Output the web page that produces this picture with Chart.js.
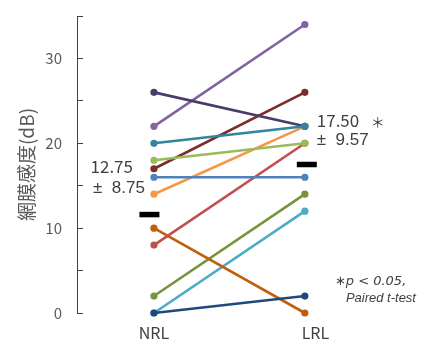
<!DOCTYPE html>
<html><head><meta charset="utf-8">
<script src="https://cdn.jsdelivr.net/npm/chart.js@4"></script>
<style>html,body{margin:0;padding:0;background:#fff}canvas{display:block}</style>
</head><body>
<canvas id="c" width="421" height="344"></canvas>
<script>
// ---- data ----
const conditions = ['NRL', 'LRL'];
const conditionLabelX = [0, 1.07];
const subjectColors = ['#31859C','#9BBB59','#1F497D','#4B3B6B','#8064A2','#7B2C2B','#4F81BD','#F79646','#C0504D','#C0600A','#77933C','#4BACC6'];
const nrlValues = [20, 18, 0, 26, 22, 17, 16, 14, 8, 10, 2, 0];
const lrlValues = [22, 20, 2, 22, 34, 26, 16, 22, 20, 0, 14, 12];
const meanMarkerX = [-0.03, 1.013];
const meanMarkerY = [11.6, 17.5];
const yTickValues = [0, 10, 20, 30];
const yTitle = '網膜感度(dB)';
const noteTexts = ['12.75', '±  8.75', '17.50', '±  9.57', '＊', '∗p < 0.05,', 'Paired t-test'];
const noteX = [-0.139, -0.404, 1.079, 1.079, 1.483, 1.199, 1.272];
const noteY = [17.3, 14.7, 22.7, 20.3, 22.5, 3.65, 1.77];
const noteAlign = ['right', 'left', 'left', 'left', 'center', 'left', 'left'];
const noteFont = ['17px "Noto Sans CJK JP"', '17px "Liberation Sans", "DejaVu Sans"', '17px "Noto Sans CJK JP"', '17px "Liberation Sans", "DejaVu Sans"',
  '14px "Noto Sans CJK JP"', 'italic 13px "DejaVu Sans"', 'italic 13px "Liberation Sans"'];

const subjectSets = nrlValues.map((v, i) => ({
  data: [{x: 0, y: v}, {x: 1, y: lrlValues[i]}],
  borderColor: subjectColors[i],
  backgroundColor: subjectColors[i],
  borderWidth: 2.6,
  pointRadius: 3.6,
  pointHoverRadius: 3.6,
  pointBorderWidth: 0,
  clip: false
}));
const meanSet = {
  data: meanMarkerX.map((x, i) => ({x, y: meanMarkerY[i]})),
  showLine: false,
  pointStyle: 'line',
  pointRadius: 10,
  pointHoverRadius: 10,
  borderColor: '#000',
  borderWidth: 5.5,
  clip: false
};

const notesPlugin = {
  id: 'notes',
  afterDatasetsDraw(chart) {
    const {ctx, scales: {x, y}} = chart;
    noteTexts.forEach((t, i) => {
      ctx.save();
      ctx.font = noteFont[i];
      ctx.fillStyle = '#404040';
      ctx.textAlign = noteAlign[i];
      ctx.textBaseline = 'middle';
      ctx.fillText(t, x.getPixelForValue(noteX[i]), y.getPixelForValue(noteY[i]));
      ctx.restore();
    });
  }
};

const zeroPad = s => { s.paddingTop = 0; s.paddingBottom = 0; s.paddingLeft = 0; s.paddingRight = 0; };

new Chart(document.getElementById('c'), {
  type: 'line',
  data: {datasets: [meanSet, ...subjectSets]},
  plugins: [notesPlugin],
  options: {
    responsive: false,
    animation: false,
    devicePixelRatio: 1,
    events: [],
    layout: {padding: {top: 16, right: 6, left: 0, bottom: 0}},
    plugins: {legend: {display: false}, tooltip: {enabled: false}},
    scales: {
      x: {
        type: 'linear',
        min: -0.51,
        max: 1.667,
        afterBuildTicks: s => { s.ticks = conditionLabelX.map(v => ({value: v})); },
        afterFit: s => { s.height = 31; zeroPad(s); },
        grid: {display: false, drawTicks: false},
        border: {display: false},
        ticks: {
          callback: (v, i) => conditions[i],
          font: {size: 16, family: '"Noto Sans CJK JP"'},
          color: '#404040',
          padding: 10,
          maxRotation: 0
        }
      },
      y: {
        min: 0,
        max: 35,
        afterFit: s => { s.width = 77; zeroPad(s); },
        grid: {drawOnChartArea: false, tickLength: -6, color: '#404040', lineWidth: 1},
        border: {color: '#404040', width: 1},
        ticks: {
          stepSize: 5,
          callback: v => yTickValues.includes(v) ? String(v) : '',
          font: {size: 15, family: '"Noto Sans CJK JP"'},
          color: '#595959',
          padding: 21
        },
        title: {
          display: true,
          text: yTitle,
          font: {size: 19, family: '"Noto Sans CJK JP"'},
          color: '#595959',
          padding: {top: 15, bottom: 0}
        }
      }
    }
  }
});
</script>
</body></html>
